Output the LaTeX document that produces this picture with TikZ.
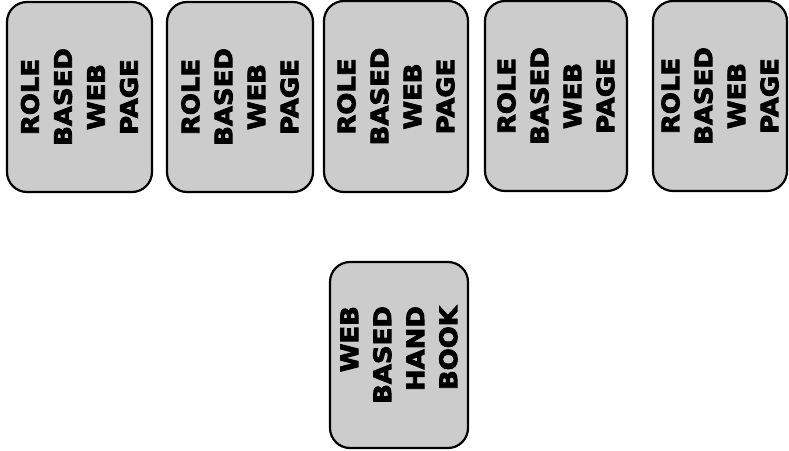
\documentclass[tikz,border=0pt]{standalone}
\usepackage{fontspec}
\newfontfamily\heavyfont{DejaVu Sans Bold}[FakeBold=3.6, FakeStretch=1.08]
\begin{document}
\begin{tikzpicture}[x=1pt,y=1pt,
  pagebox/.style={draw=black, line width=2.2pt, fill=black!20, rounded corners=20pt,
    rotate=90, inner sep=0pt, align=center,
    font=\fontsize{24}{33}\heavyfont},
  ]
\useasboundingbox (0,0) rectangle (789,450);
\node[pagebox, minimum width=190pt, minimum height=145pt] (b1) at (79.5,353) {ROLE\\BASED\\WEB\\PAGE};
\node[pagebox, minimum width=190pt, minimum height=146pt] (b2) at (240,353) {ROLE\\BASED\\WEB\\PAGE};
\node[pagebox, minimum width=191pt, minimum height=144pt] (b3) at (396,353.5) {ROLE\\BASED\\WEB\\PAGE};
\node[pagebox, minimum width=190pt, minimum height=142pt] (b4) at (556,354) {ROLE\\BASED\\WEB\\PAGE};
\node[pagebox, minimum width=190pt, minimum height=134pt] (b5) at (720,354) {ROLE\\BASED\\WEB\\PAGE};
\node[pagebox, align=right, minimum width=186pt, minimum height=138pt] (h) at (399,95) {WEB\\BASED\\HAND\\BOOK};
\end{tikzpicture}
\end{document}
